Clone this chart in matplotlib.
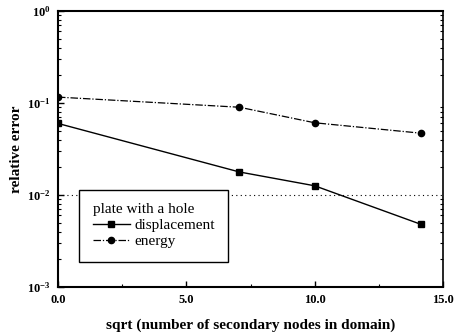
import matplotlib
matplotlib.use("Agg")
import matplotlib.pyplot as plt
import numpy as np
from matplotlib.ticker import LogLocator, MultipleLocator, NullFormatter

plt.rcParams['font.family'] = ['Liberation Serif', 'DejaVu Serif']
plt.rcParams['mathtext.fontset'] = 'stix'

# data
nodes = [0.0, 7.07, 10.0, 14.14]
displacement = [0.060, 0.0178, 0.0126, 0.0048]
energy = [0.116, 0.090, 0.061, 0.047]
x_ticks = [0.0, 5.0, 10.0, 15.0]
x_labels = ['0.0', '5.0', '10.0', '15.0']

fig = plt.figure(figsize=(4.61, 3.35), dpi=100)
ax = fig.add_axes([0.1258, 0.1433, 0.8352, 0.8237])

ax.axhline(1e-2, color='black', linestyle=(0, (1, 3)), linewidth=0.8)

ax.plot(nodes, displacement, color='black', linewidth=1.0, marker='s',
        markersize=5, label='displacement')
ax.plot(nodes, energy, color='black', linewidth=0.9, linestyle=(0, (6, 1.5, 1, 1.5)),
        marker='o', markersize=4.5, label='energy')

ax.set_yscale('log')
ax.set_ylim(1e-3, 1e0)
ax.set_xlim(0, 15)

ax.set_xticks(x_ticks)
ax.set_xticklabels(x_labels, fontweight='bold', fontsize=9)
ax.xaxis.set_minor_locator(MultipleLocator(2.5))
ax.yaxis.set_major_locator(LogLocator(base=10))
ax.yaxis.set_minor_locator(LogLocator(base=10, subs=np.arange(2, 10)))
ax.yaxis.set_minor_formatter(NullFormatter())
for lab in ax.get_yticklabels():
    lab.set_fontsize(9)
    lab.set_fontweight('bold')

ax.tick_params(which='major', direction='in', length=4, width=1.0, top=False, right=False, pad=5)
ax.tick_params(which='minor', direction='in', length=2.5, width=0.8, top=False, right=True)
ax.tick_params(axis='x', which='minor', right=False)

for s in ['left', 'bottom', 'top']:
    ax.spines[s].set_linewidth(1.5)
ax.spines['right'].set_linewidth(1.2)

ax.set_xlabel('sqrt (number of secondary nodes in domain)', fontsize=11, fontweight='semibold', labelpad=9)
ax.set_ylabel('relative error', fontsize=11, fontweight='semibold', labelpad=3)

leg = ax.legend(title='plate with a hole', loc='lower left', bbox_to_anchor=(0.055, 0.09),
                borderaxespad=0, fancybox=False, edgecolor='black', framealpha=1,
                fontsize=11, title_fontsize=11, handlelength=2.4, borderpad=0.9,
                handletextpad=0.3, labelspacing=0.15)
leg._legend_box.align = 'left'
leg.get_frame().set_linewidth(1.0)

fig.savefig('out.png', dpi=100)
